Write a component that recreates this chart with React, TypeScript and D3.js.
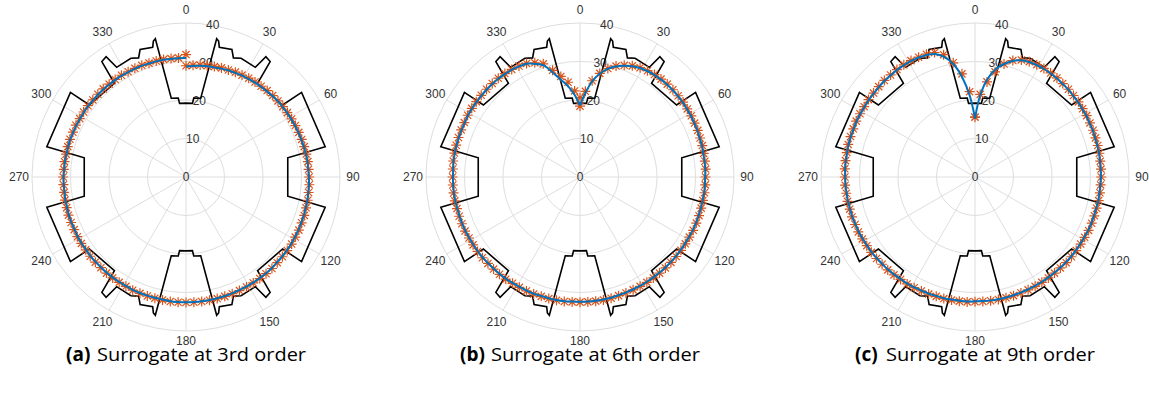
import React from 'react';
import * as d3 from 'd3';

// Polar grid ticks
const thetaTicks = [0, 30, 60, 90, 120, 150, 180, 210, 240, 270, 300, 330];
const rTicks = [0, 10, 20, 30, 40];
const rMax = 40;

// Reference profile (black), first quadrant vertices [theta deg, r]; mirrored to the other quadrants
const profileQ1: [number, number][] = [
  [0, 19.2], [5.0, 19.2], [5.6, 20.6], [10.6, 20.8], [12.5, 36.8], [13.5, 36.3],
  [14.4, 34.8], [19.8, 35.2], [21.7, 33.3], [24.9, 34.0], [32.3, 33.7], [33.6, 37.5],
  [36.1, 37.1], [37.4, 30.6], [53.3, 31.3], [53.8, 37.2], [77.7, 37.0], [79.3, 26.9],
];

// Surrogate curves sampled every 3.6 degrees (0..360)
const surrogate3 = [
  28.7, 28.9, 29.1, 29.3, 29.4, 29.6, 29.8, 29.9, 30.1, 30.2,
  30.4, 30.5, 30.6, 30.8, 30.9, 31.0, 31.1, 31.2, 31.3, 31.4,
  31.5, 31.6, 31.7, 31.8, 31.8, 31.9, 32.0, 32.0, 32.1, 32.1,
  32.2, 32.2, 32.3, 32.3, 32.4, 32.4, 32.4, 32.4, 32.5, 32.5,
  32.5, 32.5, 32.5, 32.5, 32.5, 32.5, 32.5, 32.5, 32.5, 32.5,
  32.5, 32.5, 32.5, 32.4, 32.4, 32.4, 32.4, 32.4, 32.3, 32.3,
  32.3, 32.3, 32.2, 32.2, 32.2, 32.1, 32.1, 32.1, 32.0, 32.0,
  32.0, 31.9, 31.9, 31.8, 31.8, 31.8, 31.7, 31.7, 31.6, 31.6,
  31.6, 31.5, 31.5, 31.4, 31.4, 31.4, 31.3, 31.3, 31.3, 31.2,
  31.2, 31.2, 31.1, 31.1, 31.1, 31.0, 31.0, 31.0, 30.9, 30.9, 30.9,
];
const samples3 = [
  28.9, 29.1, 29.3, 29.4, 29.6, 29.8, 29.9, 30.1, 30.2, 30.4,
  30.5, 30.6, 30.8, 30.9, 31.0, 31.1, 31.2, 31.3, 31.4, 31.5,
  31.6, 31.7, 31.8, 31.9, 31.9, 32.0, 32.1, 32.1, 32.2, 32.2,
  32.3, 32.3, 32.4, 32.4, 32.5, 32.5, 32.5, 32.5, 32.6, 32.6,
  32.6, 32.6, 32.6, 32.6, 32.6, 32.6, 32.6, 32.6, 32.6, 32.6,
  32.6, 32.6, 32.6, 32.5, 32.5, 32.5, 32.5, 32.5, 32.4, 32.4,
  32.4, 32.4, 32.3, 32.3, 32.3, 32.2, 32.2, 32.2, 32.1, 32.1,
  32.1, 32.0, 32.0, 31.9, 31.9, 31.9, 31.8, 31.8, 31.7, 31.7,
  31.7, 31.6, 31.6, 31.5, 31.5, 31.5, 31.4, 31.4, 31.4, 31.3,
  31.3, 31.3, 31.2, 31.2, 31.2, 31.1, 31.1, 31.1, 31.0, 31.0, 31.8,
];

const surrogate6 = [
  18.6, 21.8, 25.0, 27.3, 29.0, 30.2, 31.1, 31.8, 32.3, 32.6,
  32.8, 32.9, 33.0, 33.0, 33.0, 33.0, 32.9, 32.9, 32.8, 32.8,
  32.7, 32.7, 32.6, 32.6, 32.6, 32.5, 32.5, 32.5, 32.4, 32.4,
  32.4, 32.4, 32.4, 32.3, 32.3, 32.3, 32.3, 32.3, 32.3, 32.3,
  32.3, 32.3, 32.3, 32.3, 32.3, 32.3, 32.4, 32.4, 32.4, 32.4,
  32.4, 32.4, 32.5, 32.5, 32.5, 32.5, 32.6, 32.6, 32.6, 32.6,
  32.7, 32.7, 32.7, 32.7, 32.8, 32.8, 32.8, 32.8, 32.9, 32.9,
  32.9, 32.9, 33.0, 33.0, 33.0, 33.0, 33.0, 33.1, 33.1, 33.1,
  33.1, 33.1, 33.1, 33.2, 33.2, 33.2, 33.2, 33.2, 33.2, 33.2,
  33.1, 33.0, 32.8, 32.5, 31.6, 30.5, 27.9, 25.6, 23.6, 21.3, 18.6,
];
const samples6 = [
  18.4, 22.3, 25.2, 27.4, 29.1, 30.3, 31.2, 31.9, 32.4, 32.7,
  32.9, 33.0, 33.1, 33.1, 33.1, 33.1, 33.0, 33.0, 32.9, 32.9,
  32.8, 32.8, 32.7, 32.7, 32.7, 32.6, 32.6, 32.6, 32.5, 32.5,
  32.5, 32.5, 32.5, 32.4, 32.4, 32.4, 32.4, 32.4, 32.4, 32.4,
  32.4, 32.4, 32.4, 32.4, 32.4, 32.4, 32.5, 32.5, 32.5, 32.5,
  32.5, 32.5, 32.6, 32.6, 32.6, 32.6, 32.7, 32.7, 32.7, 32.7,
  32.8, 32.8, 32.8, 32.8, 32.9, 32.9, 32.9, 32.9, 33.0, 33.0,
  33.0, 33.0, 33.1, 33.1, 33.1, 33.1, 33.1, 33.2, 33.2, 33.2,
  33.2, 33.2, 33.2, 33.3, 33.3, 33.3, 33.3, 33.3, 33.3, 33.3,
  33.2, 33.1, 32.9, 32.6, 31.9, 30.9, 28.6, 26.6, 24.8, 22.4, 20.6,
];

const surrogate9 = [
  15.2, 21.2, 25.6, 28.5, 30.3, 31.7, 32.6, 33.0, 33.2, 33.3,
  33.3, 33.3, 33.2, 33.2, 33.1, 33.1, 33.0, 33.0, 32.9, 32.9,
  32.8, 32.8, 32.8, 32.7, 32.7, 32.7, 32.6, 32.6, 32.6, 32.5,
  32.5, 32.5, 32.5, 32.4, 32.4, 32.4, 32.4, 32.4, 32.3, 32.3,
  32.3, 32.3, 32.3, 32.3, 32.3, 32.3, 32.3, 32.3, 32.3, 32.3,
  32.3, 32.4, 32.4, 32.4, 32.5, 32.5, 32.6, 32.6, 32.7, 32.8,
  32.8, 32.9, 33.0, 33.0, 33.1, 33.2, 33.2, 33.3, 33.4, 33.4,
  33.5, 33.5, 33.6, 33.6, 33.7, 33.7, 33.8, 33.8, 33.8, 33.9,
  33.9, 33.9, 34.0, 34.0, 34.0, 34.1, 34.1, 34.2, 34.3, 34.3,
  34.4, 34.4, 34.4, 34.3, 34.1, 33.6, 32.2, 29.8, 26.0, 21.0, 15.2,
];
const samples9 = [
  15.5, 21.5, 24.9, 27.8, 30.3, 31.8, 32.7, 33.1, 33.3, 33.4,
  33.4, 33.4, 33.3, 33.3, 33.2, 33.2, 33.1, 33.1, 33.0, 33.0,
  32.9, 32.9, 32.9, 32.8, 32.8, 32.8, 32.7, 32.7, 32.7, 32.6,
  32.6, 32.6, 32.6, 32.5, 32.5, 32.5, 32.5, 32.5, 32.4, 32.4,
  32.4, 32.4, 32.4, 32.4, 32.4, 32.4, 32.4, 32.4, 32.4, 32.4,
  32.4, 32.5, 32.5, 32.5, 32.6, 32.6, 32.7, 32.7, 32.8, 32.9,
  32.9, 33.0, 33.1, 33.1, 33.2, 33.3, 33.3, 33.4, 33.5, 33.5,
  33.6, 33.6, 33.7, 33.7, 33.8, 33.8, 33.9, 33.9, 33.9, 34.0,
  34.0, 34.0, 34.1, 34.1, 34.1, 34.2, 34.2, 34.3, 34.4, 34.4,
  34.5, 34.5, 34.5, 34.4, 34.3, 34.0, 32.8, 30.2, 27.0, 22.2, 15.6,
];

const panels = [
  { tag: '(a)', caption: 'Surrogate at 3rd order', surrogate: surrogate3, samples: samples3 },
  { tag: '(b)', caption: 'Surrogate at 6th order', surrogate: surrogate6, samples: samples6 },
  { tag: '(c)', caption: 'Surrogate at 9th order', surrogate: surrogate9, samples: samples9 },
];

const W = 1149;
const H = 397;
const centersX = [186, 580, 975];
const centerY = 177;
const outerPx = 154;

const BLUE = '#0072BD';
const ORANGE = '#D95319';
const GRID = '#dedede';
const TEXT = '#333333';
const TICK_FONT = "'Liberation Sans', Arial, Helvetica, sans-serif";
const CAPTION_FONT = "'Open Sans', 'Noto Sans', sans-serif";

const rad = (deg: number) => (deg * Math.PI) / 180;

function fullProfile(): [number, number][] {
  const q1 = profileQ1;
  const q2 = [...q1].reverse().map(([t, r]) => [180 - t, r] as [number, number]);
  const q3 = q1.map(([t, r]) => [180 + t, r] as [number, number]);
  const q4 = [...q1].reverse().map(([t, r]) => [360 - t, r] as [number, number]);
  return [...q1, ...q2, ...q3, ...q4];
}

// asterisk marker: a plus and a cross of equal arm length
function starPath(x: number, y: number, a: number) {
  const b = a * 0.72;
  return `M${x - a},${y}L${x + a},${y}M${x},${y - a}L${x},${y + a}` +
    `M${x - b},${y - b}L${x + b},${y + b}M${x - b},${y + b}L${x + b},${y - b}`;
}

function PolarPanel({ cx, panel }: { cx: number; panel: typeof panels[number] }) {
  const r = d3.scaleLinear().domain([0, rMax]).range([0, outerPx]);
  const thetas = d3.range(panel.surrogate.length).map((k) => (k * 360) / (panel.surrogate.length - 1));

  const profilePath = d3.lineRadial<[number, number]>()
    .angle((d) => rad(d[0]))
    .radius((d) => r(d[1]))
    .curve(d3.curveLinearClosed)(fullProfile()) || '';

  const surrogatePts: [number, number][] = thetas.map((t, i) => [t, panel.surrogate[i]]);
  const surrogatePath = d3.lineRadial<[number, number]>()
    .angle((d) => rad(d[0]))
    .radius((d) => r(d[1]))
    .curve(d3.curveCatmullRom.alpha(0.5))(surrogatePts) || '';

  const starsD = thetas
    .map((t, i) => {
      const rr = r(panel.samples[i]);
      return starPath(rr * Math.sin(rad(t)), -rr * Math.cos(rad(t)), 5.0);
    })
    .join('');

  const labelR = (t: number) => (t === 180 ? 164 : 167);
  const rLabelAngle = rad(10);

  return (
    <g transform={`translate(${cx},${centerY})`}>
      {rTicks.filter((v) => v > 0).map((v) => (
        <circle key={v} r={r(v)} fill="none" stroke={GRID} strokeWidth={1} />
      ))}
      {thetaTicks.map((t) => (
        <line key={t} x1={0} y1={0} x2={outerPx * Math.sin(rad(t))} y2={-outerPx * Math.cos(rad(t))}
          stroke={GRID} strokeWidth={1} />
      ))}
      {thetaTicks.map((t) => (
        <text key={`t${t}`} x={labelR(t) * Math.sin(rad(t))} y={-labelR(t) * Math.cos(rad(t))}
          textAnchor="middle" dominantBaseline="central" fontSize={12}
          fontFamily={TICK_FONT} fill={TEXT}>{t}</text>
      ))}
      {rTicks.map((v) => (
        <text key={`r${v}`} x={r(v) * Math.sin(rLabelAngle)} y={-r(v) * Math.cos(rLabelAngle)}
          textAnchor="middle" dominantBaseline="central" fontSize={12}
          fontFamily={TICK_FONT} fill={TEXT}>{v}</text>
      ))}
      <path d={profilePath} fill="none" stroke="#000" strokeWidth={1.6} strokeLinejoin="miter" />
      <path d={starsD} fill="none" stroke={ORANGE} strokeWidth={1.2} />
      <path d={surrogatePath} fill="none" stroke={BLUE} strokeWidth={2} />
      <text x={-120} y={184} textAnchor="start" fontSize={19} fontWeight="bold"
        fontFamily={CAPTION_FONT} fill="#000">{panel.tag}</text>
      <text x={-89} y={184} textAnchor="start" fontSize={19} textLength={209} lengthAdjust="spacingAndGlyphs"
        fontFamily={CAPTION_FONT} fill="#000">{panel.caption}</text>
    </g>
  );
}

export default function App() {
  return (
    <svg width={W} height={H} style={{ position: 'absolute', left: 0, top: 0, background: '#fff' }}>
      <rect width={W} height={H} fill="#fff" />
      {panels.map((p, i) => (
        <PolarPanel key={p.tag} cx={centersX[i]} panel={p} />
      ))}
    </svg>
  );
}
